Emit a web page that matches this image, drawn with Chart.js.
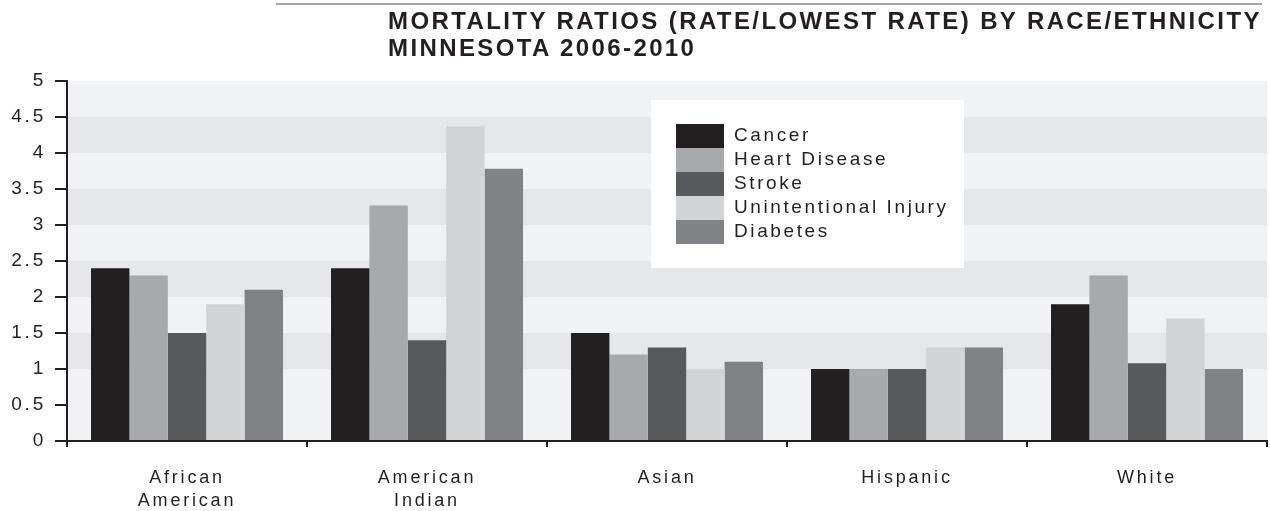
<!DOCTYPE html>
<html>
<head>
<meta charset="utf-8">
<script src="https://cdn.jsdelivr.net/npm/chart.js@4.4.0/dist/chart.umd.min.js"></script>
<style>
  html, body { margin: 0; padding: 0; background: #ffffff; }
  #wrap { position: relative; width: 1270px; height: 511px; overflow: hidden; }
  #topline { position: absolute; left: 276px; top: 3px; width: 986px; height: 2px; background: #a3a3a3; }
  #title { position: absolute; left: 388px; top: 7px; font-family: 'Liberation Sans', Arial, sans-serif; font-weight: bold;
           font-size: 24px; line-height: 27px; letter-spacing: 2.4px; color: #231f20; white-space: nowrap; }
  canvas { position: absolute; left: 0; top: 0; }
</style>
</head>
<body>
<div id="wrap">
  <canvas id="c" width="1270" height="511"></canvas>
  <div id="topline"></div>
  <div id="title">MORTALITY RATIOS (RATE/LOWEST RATE) BY RACE/ETHNICITY<br>MINNESOTA 2006-2010</div>
</div>
<script>
// ---- data ----
const categories = [['African', 'American'], ['American', 'Indian'], 'Asian', 'Hispanic', 'White'];
const seriesNames = ['Cancer', 'Heart Disease', 'Stroke', 'Unintentional Injury', 'Diabetes'];
const cancer        = [2.4, 2.4, 1.5, 1.0, 1.9];
const heartDisease  = [2.3, 3.27, 1.2, 1.0, 2.3];
const stroke        = [1.5, 1.4, 1.3, 1.0, 1.08];
const unintInjury   = [1.9, 4.37, 1.0, 1.3, 1.7];
const diabetes      = [2.1, 3.78, 1.1, 1.3, 1.0];
const yMin = 0, yMax = 5, yStep = 0.5;
const darkBandStarts = [1, 2, 3, 4];   // bands from v to v+0.5 drawn darker

const seriesColors = ['#231f20', '#a7a9ac', '#58595b', '#d1d3d4', '#808285'];
const seriesValues = [cancer, heartDisease, stroke, unintInjury, diabetes];

const FONT = "'Liberation Sans', Arial, sans-serif";
const INK = '#231f20';

const bandsPlugin = {
  id: 'bands',
  beforeDraw(chart) {
    const { ctx, chartArea: a, scales: { y } } = chart;
    ctx.letterSpacing = '2.8px';
    ctx.save();
    ctx.fillStyle = '#f1f2f4';
    ctx.fillRect(a.left, a.top, a.right - a.left, a.bottom - a.top);
    ctx.fillStyle = '#e6e7e8';
    darkBandStarts.forEach(v => {
      const t = y.getPixelForValue(v + yStep), b = y.getPixelForValue(v);
      ctx.fillRect(a.left, t, a.right - a.left, b - t);
    });
    ctx.restore();
  }
};

const legendPlugin = {
  id: 'boxLegend',
  afterDatasetsDraw(chart) {
    const ctx = chart.ctx;
    ctx.save();
    ctx.fillStyle = '#ffffff';
    ctx.fillRect(651, 100, 313, 168);
    ctx.font = '19px ' + FONT;
    ctx.letterSpacing = '2.6px';
    ctx.textBaseline = 'middle';
    ctx.textAlign = 'left';
    chart.data.datasets.forEach((ds, i) => {
      const yTop = 124 + i * 24;
      ctx.fillStyle = ds.backgroundColor;
      ctx.fillRect(676, yTop, 48, 24);
      ctx.fillStyle = INK;
      ctx.fillText(ds.label, 734, yTop + 12);
    });
    ctx.restore();
  }
};

new Chart(document.getElementById('c'), {
  type: 'bar',
  data: {
    labels: categories,
    datasets: seriesNames.map((n, i) => ({
      label: n,
      data: seriesValues[i],
      backgroundColor: seriesColors[i],
      borderWidth: 0,
      barPercentage: 1.0,
      categoryPercentage: 0.8
    }))
  },
  options: {
    responsive: false,
    animation: false,
    devicePixelRatio: 1,
    layout: { padding: { left: 0, top: 81, right: 3, bottom: 0 } },
    plugins: { legend: { display: false }, tooltip: { enabled: false }, title: { display: false } },
    scales: {
      x: {
        offset: true,
        grid: { offset: true, drawOnChartArea: false, drawTicks: true, tickLength: 6, color: INK, lineWidth: 2 },
        border: { display: true, color: INK, width: 2 },
        ticks: { font: { family: FONT, size: 18, lineHeight: 1.25 }, color: INK, padding: 20, maxRotation: 0, autoSkip: false },
        afterFit(s) { s.height = 70; }
      },
      y: {
        min: yMin, max: yMax,
        grid: { drawOnChartArea: false, drawTicks: true, tickLength: 12, color: INK, lineWidth: 2 },
        border: { display: true, color: INK, width: 2 },
        ticks: { stepSize: yStep, font: { family: FONT, size: 19 }, color: INK, padding: 9,
                 callback: v => String(Number(v)) },
        afterFit(s) { s.width = 67; }
      }
    }
  },
  plugins: [bandsPlugin, legendPlugin]
});
</script>
</body>
</html>
